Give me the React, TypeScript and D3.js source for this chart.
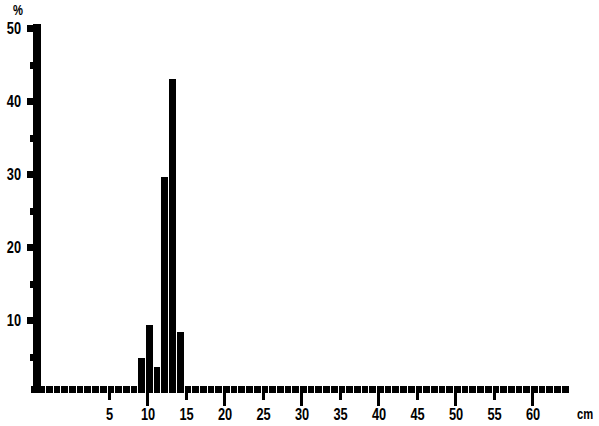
import * as d3 from 'd3';
import React, { useEffect, useRef } from 'react';

// bins start at -5 cm, one bin per cm
const binStart = -5;
const percents = [
  1, 1, 1, 1, 1, 1, 1, 1, 1, 1, 1, 1, 1, 1,
  4.8, 9.3, 3.6, 29.6, 43, 8.3,
  1, 1, 1, 1, 1, 1, 1, 1, 1, 1,
  1, 1, 1, 1, 1, 1, 1, 1, 1, 1,
  1, 1, 1, 1, 1, 1, 1, 1, 1, 1,
  1, 1, 1, 1, 1, 1, 1, 1, 1, 1,
  1, 1, 1, 1, 1, 1, 1, 1, 1, 1,
];
const xTicks = [5, 10, 15, 20, 25, 30, 35, 40, 45, 50, 55, 60];
const yTicks = [5, 10, 15, 20, 25, 30, 35, 40, 45, 50];
const yLabels = [10, 20, 30, 40, 50];

const W = 599;
const H = 426;
const FONT = '"Liberation Sans", Arial, sans-serif';
const SQUEEZE = 0.8; // labels in the original are narrow

function App() {
  const svgRef = useRef<SVGSVGElement>(null);

  useEffect(() => {
    const svg = d3.select(svgRef.current);
    svg.selectAll('*').remove();

    const x = d3.scaleLinear().domain([10, 60]).range([146, 531]);
    const y = d3.scaleLinear().domain([0, 50]).range([393, 28]);
    const g = svg.append('g').attr('shape-rendering', 'crispEdges');

    // bars
    g.selectAll('.bar')
      .data(percents)
      .join('rect')
      .attr('class', 'bar')
      .attr('x', (d, i) => x(binStart + i))
      .attr('width', x(1) - x(0) - 1)
      .attr('y', d => y(d))
      .attr('height', d => y(0) - y(d))
      .attr('fill', '#000');

    // y axis line
    g.append('rect')
      .attr('x', 33)
      .attr('y', y(50) - 4)
      .attr('width', 8)
      .attr('height', y(0) - y(50) + 4)
      .attr('fill', '#000');

    g.selectAll('.ytick')
      .data(yTicks)
      .join('rect')
      .attr('class', 'ytick')
      .attr('x', d => (d % 10 === 0 ? 27 : 30))
      .attr('width', d => (d % 10 === 0 ? 6 : 3))
      .attr('y', d => y(d) - 3)
      .attr('height', 7)
      .attr('fill', '#000');

    const label = (sel, size) =>
      sel
        .attr('font-family', FONT)
        .attr('font-weight', 'bold')
        .attr('font-size', size);

    svg.selectAll('.ylabel')
      .data(yLabels)
      .join('text')
      .attr('class', 'ylabel')
      .attr('transform', d => `translate(21,${y(d)}) scale(${SQUEEZE},1)`)
      .attr('dy', '0.35em')
      .attr('text-anchor', 'end')
      .call(label, 16)
      .text(d => d);

    // x axis ticks
    g.selectAll('.xtick')
      .data(xTicks)
      .join('rect')
      .attr('class', 'xtick')
      .attr('x', d => x(d))
      .attr('width', 3)
      .attr('y', y(0))
      .attr('height', d => (d % 10 === 0 ? 13 : 7))
      .attr('fill', '#000');

    svg.selectAll('.xlabel')
      .data(xTicks)
      .join('text')
      .attr('class', 'xlabel')
      .attr('transform', d => `translate(${x(d) + 2},420) scale(${SQUEEZE},1)`)
      .attr('text-anchor', 'middle')
      .call(label, 16)
      .text(d => d);

    svg.append('text')
      .attr('transform', `translate(585,419) scale(${SQUEEZE},1)`)
      .attr('text-anchor', 'middle')
      .call(label, 14)
      .text('cm');

    svg.append('text')
      .attr('transform', `translate(18,15) scale(${SQUEEZE},1)`)
      .attr('text-anchor', 'middle')
      .call(label, 14)
      .text('%');
  }, []);

  return (
    <svg
      ref={svgRef}
      width={W}
      height={H}
      style={{ position: 'absolute', left: 0, top: 0, background: '#fff' }}
    />
  );
}

export default App;
